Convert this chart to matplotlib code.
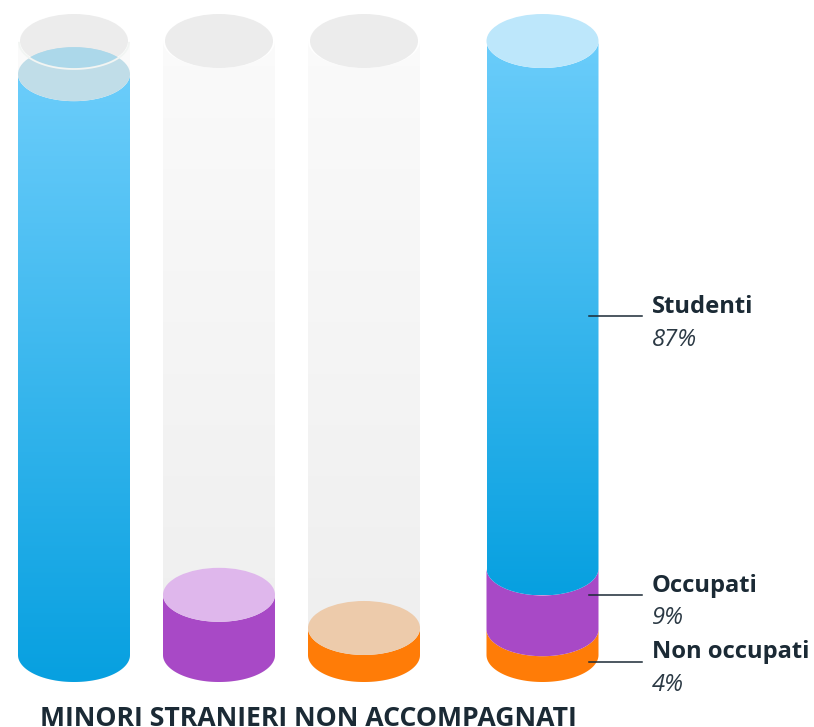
#!/usr/bin/env python3

import numpy as np
import matplotlib.pyplot as plt
from matplotlib.colors import LinearSegmentedColormap
from matplotlib.patches import Ellipse, Polygon

# fill levels as share of the cylinder height
single_levels = [94.6, 9.8, 4.4]
single_colors = ["blue", "#a849c6", "#ff7c07"]
single_tops = ["#c0dde8", "#dfb7ec", "#edcbab"]

stack_names = ["Non occupati", "Occupati", "Studenti"]
stack_labels = ["4%", "9%", "87%"]
stack_levels = [4.2, 9.9, 85.9]
stack_colors = ["#ff7c07", "#a849c6", "blue"]

title = "MINORI STRANIERI NON ACCOMPAGNATI"

centers = [74, 219, 364, 542.5]
BASE = 655
FULL = 614
RX = 56
RY = 27
INK = "#1b2a35"

blues = LinearSegmentedColormap.from_list("b", ["#70cffc", "#07a0e0"])
glass = LinearSegmentedColormap.from_list("g", ["#fbfbfb", "#eeeeee"])


def level_y(level):
    return BASE - FULL * level / 100


def body(cx, y0, y1):
    # side of a cylinder between two ellipse centres, y grows downwards
    t = np.linspace(0, np.pi, 80)
    bottom = np.column_stack([cx + RX * np.cos(t), y0 + RY * np.sin(t)])
    top = np.column_stack([cx - RX * np.cos(t), y1 + RY * np.sin(t)])
    return Polygon(np.vstack([bottom, top]), closed=True, lw=0)


def gradient_body(ax, cx, y0, y1, cmap, z):
    patch = body(cx, y0, y1)
    patch.set_facecolor("none")
    ax.add_patch(patch)
    grad = np.linspace(0, 1, 256).reshape(-1, 1)
    im = ax.imshow(grad, cmap=cmap, aspect="auto", zorder=z,
                   extent=[cx - RX, cx + RX, y0 + RY, y1 - RY])
    im.set_clip_path(patch)


def solid_body(ax, cx, y0, y1, color, z):
    patch = body(cx, y0, y1)
    patch.set_facecolor(color)
    patch.set_zorder(z)
    ax.add_patch(patch)


def disc(ax, cx, y, color, z, rx=RX):
    e = Ellipse((cx, y), 2 * rx, 2 * RY, fc=color, ec="none", zorder=z)
    ax.add_patch(e)
    return e


def main():
    fig = plt.figure(figsize=(8.14, 7.27), dpi=100)
    ax = fig.add_axes([0, 0, 1, 1])
    font = ["Open Sans", "DejaVu Sans"]

    top_y = level_y(100)
    # the three single cylinders
    for cx, level, color, top in zip(centers[:3], single_levels, single_colors, single_tops):
        gradient_body(ax, cx, BASE, top_y, glass, 1)
        disc(ax, cx, top_y, "#ececec", 2, rx=RX - 2)
        y = level_y(level)
        if color == "blue":
            gradient_body(ax, cx, BASE, y, blues, 3)
        else:
            solid_body(ax, cx, BASE, y, color, 3)
        surface = disc(ax, cx, y, top, 4)
        if color == "blue":
            overlap = disc(ax, cx, top_y, "#acd8ea", 5, rx=RX - 2)
            overlap.set_clip_path(surface)
            t = np.linspace(0.03, np.pi - 0.03, 80)
            ax.plot(cx + (RX - 1) * np.cos(t), top_y + 1 + RY * np.sin(t),
                    color="#f2f5f3", lw=1.3, zorder=6)

    # the stacked cylinder
    cx = centers[3]
    edges = BASE - FULL * np.cumsum(stack_levels) / 100
    lows = np.r_[BASE, edges[:-1]]
    for low, high, color in zip(lows, edges, stack_colors):
        if color == "blue":
            gradient_body(ax, cx, low, high, blues, 4)
        else:
            solid_body(ax, cx, low, high, color, 3)
    disc(ax, cx, edges[-1], "#bde7fb", 7)

    # labels and leader lines
    line_y = [661.5, 595, 316]
    for y, name, label in zip(line_y, stack_names, stack_labels):
        ax.plot([589, 642], [y, y], color=INK, lw=1.1, zorder=8)
        ax.text(651.5, y - 3, name, family=font, weight="bold", fontsize=17.1,
                color=INK, va="baseline", ha="left", zorder=9)
        ax.text(651.5, y + 29.5, label, family=font, style="italic", fontsize=17.1,
                color="#2b3944", va="baseline", ha="left", zorder=9)

    ax.text(40, 725.5, title, family=font, weight="bold", fontsize=19.15,
            color=INK, va="baseline", ha="left")

    ax.set_xlim(0, 814)
    ax.set_ylim(727, 0)
    ax.axis("off")
    fig.savefig("out.png", dpi=100, facecolor="white")


if __name__ == "__main__":
    main()
